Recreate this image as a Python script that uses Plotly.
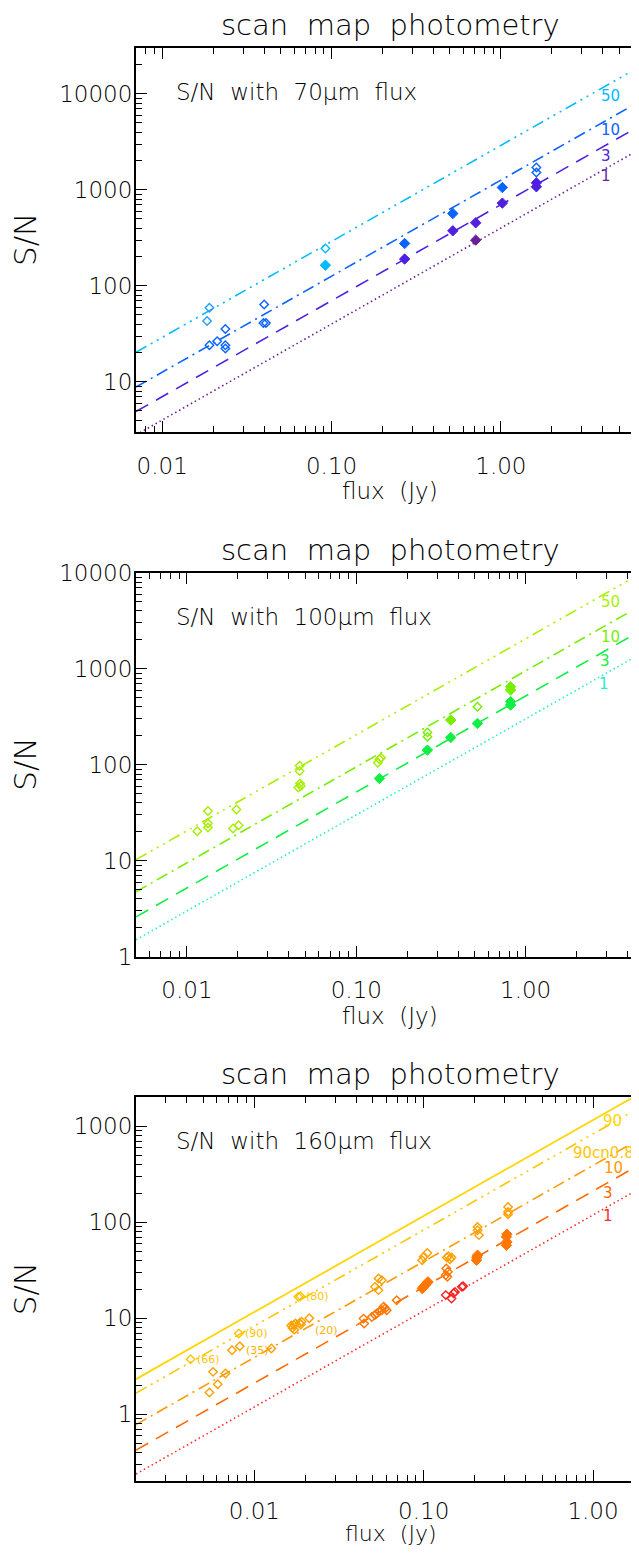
import numpy as np
import plotly.graph_objects as go

# ---------------------------------------------------------------- data
# panel 1 : 70 micron
p1_line_names = ["50", "10", "3", "1"]
p1_line_k = [2900, 1260, 700, 400]          # S/N per Jy
p1_label_x = [4.42, 4.42, 4.2, 4.2]
p1_label_y = [9460, 4190, 2240, 1390]

p1_cyan_open_x = [0.092]
p1_cyan_open_y = [245]
p1_cyan_fill_x = [0.092]
p1_cyan_fill_y = [164]
p1_lblue_open_x = [0.019, 0.0184]
p1_lblue_open_y = [59, 43]
p1_blue_open_x = [0.019, 0.0211, 0.0236, 0.0236, 0.0236, 0.0400, 0.0396, 0.0410, 1.62, 1.62]
p1_blue_open_y = [24, 26.5, 35.5, 24, 22.2, 64, 41, 41, 1710, 1515]
p1_blue_fill_x = [0.27, 0.52, 1.02]
p1_blue_fill_y = [276, 566, 1057]
p1_violet_fill_x = [0.27, 0.52, 0.71, 1.02, 1.62, 1.62]
p1_violet_fill_y = [190, 374, 453, 727, 1183, 1075]
p1_purple_fill_x = [0.71]
p1_purple_fill_y = [299]

# panel 2 : 100 micron
p2_line_names = ["50", "10", "3", "1"]
p2_line_k = [2050, 950, 520, 300]
p2_label_x = [3.15, 3.15, 2.95, 2.9]
p2_label_y = [4920, 2154, 1211, 693]

p2_yg_open_x = [0.0115, 0.0133, 0.0133, 0.0133, 0.0187, 0.0196, 0.0202, 0.0463, 0.0463,
                0.0455, 0.0465, 0.0470, 0.134, 0.137, 0.140]
p2_yg_open_y = [20.3, 33, 24.4, 22.2, 21.6, 34.1, 23.4, 97.5, 85.7, 58, 63.7, 60, 105, 114, 118]
p2_lg_open_x = [0.263, 0.263, 0.519]
p2_lg_open_y = [217, 195, 401]
p2_lg_fill_x = [0.361, 0.815, 0.815]
p2_lg_fill_y = [292, 649, 600]
p2_g_fill_x = [0.137, 0.263, 0.361, 0.519, 0.815, 0.815]
p2_g_fill_y = [71.8, 142, 192, 269, 453, 418]

# panel 3 : 160 micron
p3_line_names = ["90", "90cn0.8", "10", "3", "1"]
p3_line_k = [1160, 830, 390, 211, 119]
p3_label_x = [1.31, 1.146, 1.32, 1.22, 1.22]
p3_label_y = [1140, 530, 364, 203, 116]

p3_gold_x = [0.0042, 0.0081, 0.0182, 0.0187]
p3_gold_y = [3.74, 6.92, 16.7, 16.9]
p3_orange_open_x = [0.0057, 0.00675, 0.00608, 0.00543, 0.00738, 0.0082, 0.0126,
                    0.0165, 0.0168, 0.0171, 0.0175, 0.0185, 0.0190, 0.0188, 0.0172, 0.0211,
                    0.0516, 0.0541, 0.0566, 0.0541,
                    0.098, 0.100, 0.105,
                    0.140, 0.146, 0.143, 0.137,
                    0.208, 0.208, 0.212,
                    0.315, 0.315, 0.315]
p3_orange_open_y = [2.76, 2.66, 2.05, 1.68, 4.64, 5.1, 4.83,
                    8.4, 7.9, 8.5, 8.8, 8.9, 9.2, 8.6, 7.6, 10.0,
                    21.2, 19.6, 24.9, 25.9,
                    40.2, 43.6, 47.9,
                    44.3, 42.9, 41.2, 42.9,
                    89.3, 82.6, 73.3,
                    144, 128, 121]
p3_dorange_open_x = [0.0441, 0.0445, 0.0494, 0.0515, 0.0528, 0.0546, 0.0565, 0.0580, 0.0592,
                     0.0605, 0.0693, 0.136, 0.139, 0.135, 0.138]
p3_dorange_open_y = [9.9, 8.8, 10.3, 10.8, 11.2, 11.7, 12.1, 13.2, 12.6,
                     12.1, 15.4, 32.9, 30.4, 28.1, 27.0]
p3_dorange_fill_x = [0.098, 0.100, 0.102, 0.104, 0.106, 0.208, 0.206, 0.205,
                     0.310, 0.308, 0.310, 0.308]
p3_dorange_fill_y = [20.4, 21.2, 22.1, 23.0, 23.9, 45.3, 43.0, 40.2,
                     75, 70.4, 62.4, 57.5]
p3_red_x = [0.135, 0.146, 0.153, 0.150, 0.168, 0.171]
p3_red_y = [17.4, 16.0, 18.8, 18.2, 21.2, 21.5]

p3_note_text = ["(66)", "(90)", "(80)", "(35)", "(20)"]
p3_note_x = [0.0042, 0.0081, 0.0187, 0.0082, 0.0211]
p3_note_y = [3.74, 6.92, 16.7, 5.1, 10.0]

panel_texts = ["S/N  with  70\u03bcm  flux", "S/N  with  100\u03bcm  flux", "S/N  with  160\u03bcm  flux"]
x_ranges = [(0.007, 7.0), (0.005, 5.0), (0.002, 2.0)]
y_ranges = [(3, 30000), (1, 10000), (0.2, 2000)]
y_tickvals = [[10, 100, 1000, 10000], [1, 10, 100, 1000, 10000], [1, 10, 100, 1000]]
x_tickvals = [[0.01, 0.1, 1.0], [0.01, 0.1, 1.0], [0.01, 0.1, 1.0]]
x_ticktext = ["0.01", "0.10", "1.00"]

# ---------------------------------------------------------------- layout helpers
OFF = 8                    # page body margin
FIG_W, FIG_H = 639 - OFF, 1553 - 2 * OFF
PL = 136                   # page x of left frame
FULL_W = 508               # full plot width (part of it is off the page)
VIS_W = 639 - PL
PANEL_TOP = [48, 572.7, 1097.3]
PANEL_H = 384
FLUX_OFF = [59, 59, 52]
FLUX_SIZE = [23, 23, 22]
XLAB_STANDOFF = [12, 12, 8]
FONT = "DejaVu Sans"
FW = 200


def px_x(xp):
    return (xp - PL) / VIS_W


def px_y(yp):
    return 1 - (yp - OFF) / FIG_H


def minor_vals(lo, hi):
    vals = []
    for e in range(-4, 6):
        for m in range(2, 10):
            v = m * 10.0 ** e
            if lo * 0.999 <= v <= hi * 1.001:
                vals.append(v)
    return vals


line_styles = {
    "1": dict(dash="1.5px,3px", width=1.6),
    "3": dict(dash="14px,9px", width=1.6),
    "10": dict(dash="12px,5px,2px,5px", width=1.6),
    "50": dict(dash="12px,5px,2px,5px,2px,5px,2px,5px", width=1.6),
    "90cn0.8": dict(dash="12px,5px,2px,5px,2px,5px,2px,5px", width=1.6),
    "90": dict(dash="solid", width=1.8),
}
p1_colors = {"50": "#00bcff", "10": "#0a64ff", "3": "#5020e0", "1": "#6a1e9c"}
p2_colors = {"50": "#aaf000", "10": "#77ee00", "3": "#11ee44", "1": "#22eec8"}
p3_colors = {"90": "#ffd500", "90cn0.8": "#ffc400", "10": "#ff9900", "3": "#ff6a00", "1": "#ff2a2a"}

fig = go.Figure()
annotations = []


def fnt(size, color="black", weight=FW):
    return dict(family=FONT, size=size, color=color, weight=weight)


def add_lines(i, names, ks, lx, ly, colors):
    xa, ya = ("x" if i == 0 else f"x{i+1}"), ("y" if i == 0 else f"y{i+1}")
    lo, hi = x_ranges[i]
    xs = np.logspace(np.log10(lo), np.log10(hi), 60)
    for name, k in zip(names, ks):
        st = line_styles[name]
        fig.add_trace(go.Scatter(x=xs, y=k * xs, mode="lines", xaxis=xa, yaxis=ya,
                                 line=dict(color=colors[name], width=st["width"], dash=st["dash"]),
                                 showlegend=False, hoverinfo="skip"))
    for name, x, y in zip(names, lx, ly):
        annotations.append(dict(x=np.log10(x), y=np.log10(y), xref=xa, yref=ya, text=name,
                                showarrow=False, xanchor="center", yanchor="middle",
                                font=fnt(15, colors[name], 400)))


def add_pts(i, x, y, color, filled):
    xa, ya = ("x" if i == 0 else f"x{i+1}"), ("y" if i == 0 else f"y{i+1}")
    if filled:
        mk = dict(symbol="diamond", size=8, color=color, line=dict(color=color, width=1))
    else:
        mk = dict(symbol="diamond-open", size=6.5, color=color, line=dict(color=color, width=1.4))
    fig.add_trace(go.Scatter(x=x, y=y, mode="markers", xaxis=xa, yaxis=ya, marker=mk,
                             showlegend=False, hoverinfo="skip"))


# panel 1
add_lines(0, p1_line_names, p1_line_k, p1_label_x, p1_label_y, p1_colors)
add_pts(0, p1_cyan_open_x, p1_cyan_open_y, "#00bcff", False)
add_pts(0, p1_cyan_fill_x, p1_cyan_fill_y, "#00bcff", True)
add_pts(0, p1_lblue_open_x, p1_lblue_open_y, "#2b9bff", False)
add_pts(0, p1_blue_open_x, p1_blue_open_y, "#0a64ff", False)
add_pts(0, p1_blue_fill_x, p1_blue_fill_y, "#0a64ff", True)
add_pts(0, p1_violet_fill_x, p1_violet_fill_y, "#5020e0", True)
add_pts(0, p1_purple_fill_x, p1_purple_fill_y, "#6a1e9c", True)

# panel 2
add_lines(1, p2_line_names, p2_line_k, p2_label_x, p2_label_y, p2_colors)
add_pts(1, p2_yg_open_x, p2_yg_open_y, "#a6ee00", False)
add_pts(1, p2_lg_open_x, p2_lg_open_y, "#77ee00", False)
add_pts(1, p2_lg_fill_x, p2_lg_fill_y, "#77ee00", True)
add_pts(1, p2_g_fill_x, p2_g_fill_y, "#11ee44", True)

# panel 3
add_lines(2, p3_line_names, p3_line_k, p3_label_x, p3_label_y, p3_colors)
add_pts(2, p3_orange_open_x, p3_orange_open_y, "#ffa000", False)
add_pts(2, p3_gold_x, p3_gold_y, "#ffc400", False)
add_pts(2, p3_dorange_open_x, p3_dorange_open_y, "#ff7700", False)
add_pts(2, p3_dorange_fill_x, p3_dorange_fill_y, "#ff7700", True)
add_pts(2, p3_red_x, p3_red_y, "#ff2020", False)

note_style = [(4, 0, "#ffc400"), (4, 0, "#ffc400"), (4, 0, "#ffc400"), (4, -4, "#ffb000"), (4, -12, "#ffb000")]
for t, x, y, (dx, dy, c) in zip(p3_note_text, p3_note_x, p3_note_y, note_style):
    annotations.append(dict(x=np.log10(x), y=np.log10(y), xref="x3", yref="y3", text=t,
                            showarrow=False, xanchor="left", yanchor="middle", xshift=dx, yshift=dy,
                            font=fnt(11, c, 400)))

layout = dict(width=FIG_W, height=FIG_H, margin=dict(l=PL - OFF, r=0, t=0, b=0),
              paper_bgcolor="white", plot_bgcolor="white", template="none",
              showlegend=False, font=dict(family=FONT, color="black"))

for i in range(3):
    lo, hi = x_ranges[i]
    xhi_vis = np.log10(lo) + (np.log10(hi) - np.log10(lo)) * VIS_W / FULL_W
    top = PANEL_TOP[i]
    bot = top + PANEL_H
    dom = [px_y(bot), px_y(top)]
    sfx = "" if i == 0 else str(i + 1)
    ylo, yhi = y_ranges[i]
    layout["xaxis" + sfx] = dict(
        type="log", range=[np.log10(lo), xhi_vis], domain=[0, 1],
        anchor="y" + sfx, showline=True, linecolor="black", linewidth=2, mirror="ticks",
        ticks="inside", ticklen=11, tickwidth=1.4, tickcolor="black",
        tickmode="array", tickvals=x_tickvals[i], ticktext=x_ticktext,
        minor=dict(ticks="inside", ticklen=6, tickwidth=1.2, tickcolor="black",
                   tickmode="array", tickvals=minor_vals(lo, hi)),
        tickfont=fnt(23), ticklabelstandoff=XLAB_STANDOFF[i],
        showgrid=False, zeroline=False, automargin=False)
    layout["yaxis" + sfx] = dict(
        type="log", range=[np.log10(ylo), np.log10(yhi)], domain=dom,
        anchor="x" + sfx, showline=True, linecolor="black", linewidth=2, mirror=False,
        ticks="inside", ticklen=11, tickwidth=1.4, tickcolor="black",
        tickmode="array", tickvals=y_tickvals[i], ticktext=[str(v) for v in y_tickvals[i]],
        minor=dict(ticks="inside", ticklen=6, tickwidth=1.2, tickcolor="black",
                   tickmode="array", tickvals=minor_vals(ylo, yhi)),
        tickfont=fnt(23), ticklabelstandoff=-3,
        showgrid=False, zeroline=False, automargin=False)
    # right-hand tick stubs (frame itself lies just beyond the page edge)
    layout[f"yaxis{i+4}"] = dict(
        type="log", range=[np.log10(ylo), np.log10(yhi)], domain=dom,
        overlaying="y" + sfx, anchor="x" + sfx, side="right", showline=False,
        ticks="inside", ticklen=6, tickwidth=1.4, tickcolor="black",
        tickmode="array", tickvals=y_tickvals[i], showticklabels=False,
        showgrid=False, zeroline=False, automargin=False)
    fig.add_trace(go.Scatter(x=[], y=[], xaxis="x" + sfx, yaxis=f"y{i+4}", showlegend=False))

    # titles and texts
    annotations.append(dict(x=px_x(390), y=px_y(top - 23), xref="paper", yref="paper",
                            text="scan  map  photometry", showarrow=False,
                            xanchor="center", yanchor="middle", font=fnt(29)))
    annotations.append(dict(x=px_x(390), y=px_y(bot + FLUX_OFF[i]), xref="paper", yref="paper",
                            text="flux  (Jy)", showarrow=False, xanchor="center", yanchor="middle",
                            font=fnt(FLUX_SIZE[i])))
    annotations.append(dict(x=px_x(25), y=px_y(top + PANEL_H / 2), xref="paper", yref="paper",
                            text="S/N", showarrow=False, textangle=-90,
                            xanchor="center", yanchor="middle", font=fnt(31)))
    annotations.append(dict(x=px_x(174), y=px_y(top + 44), xref="paper", yref="paper",
                            text=panel_texts[i], showarrow=False, xanchor="left", yanchor="middle",
                            font=fnt(23)))

layout["annotations"] = annotations
fig.update_layout(**layout)
fig.write_html("out.html")
